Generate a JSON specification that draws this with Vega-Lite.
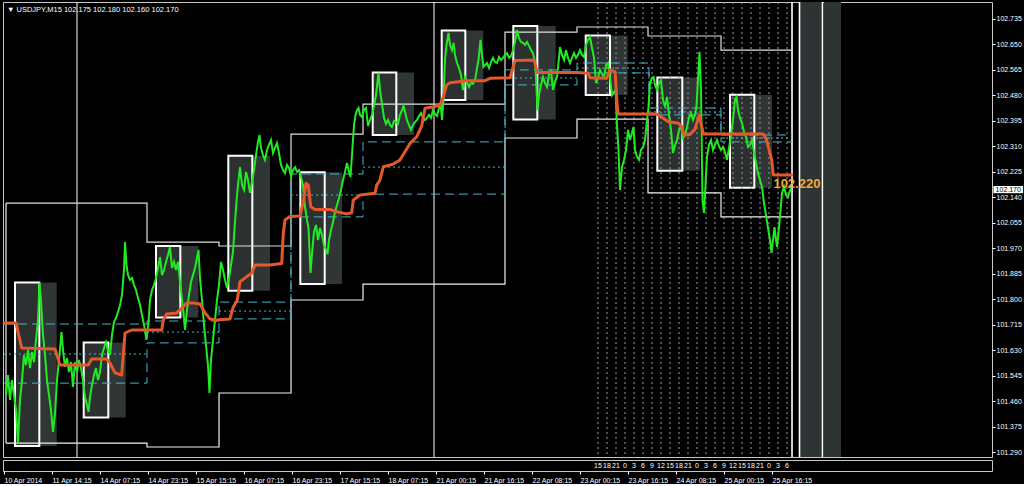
{
"$schema": "https://vega.github.io/schema/vega-lite/v6.json",
"background": "#000000",
"padding": {"left": 1, "top": 0, "right": 0, "bottom": 0},
"spacing": 0,
"config": {"view": {"stroke": "#c8c8c8", "strokeWidth": 1},
 "axis": {"labelColor": "#ffffff", "tickColor": "#ffffff", "tickSize": 3, "domain": false, "grid": false, "labelFont": "Liberation Sans", "labelFontSize": 7, "labelPadding": 1, "title": null}},
"datasets": {
"price": [
{"h":0.67,"p":101.481},{"h":1.33,"p":101.548},{"h":2,"p":101.465},{"h":2.67,"p":101.531},{"h":3.33,"p":101.481},{"h":4,"p":101.431},{"h":4.67,"p":101.321},{"h":5.33,"p":101.465},{"h":6,"p":101.531},{"h":6.67,"p":101.615},{"h":7.33,"p":101.581},{"h":8,"p":101.631},{"h":8.67,"p":101.571},{"h":9.33,"p":101.625},{"h":10,"p":101.591},{"h":10.67,"p":101.665},{"h":11.33,"p":101.731},{"h":11.83,"p":101.855},{"h":12.33,"p":101.798},{"h":13,"p":101.681},{"h":13.67,"p":101.615},{"h":14.33,"p":101.531},{"h":15,"p":101.481},{"h":15.67,"p":101.431},{"h":16.33,"p":101.358},{"h":17,"p":101.421},{"h":17.67,"p":101.531},{"h":18.33,"p":101.598},{"h":19.17,"p":101.691},{"h":19.67,"p":101.631},{"h":20.33,"p":101.575},{"h":21,"p":101.605},{"h":21.67,"p":101.558},{"h":22.33,"p":101.591},{"h":23,"p":101.508},{"h":23.67,"p":101.591},{"h":24.33,"p":101.558},{"h":25,"p":101.598},{"h":25.67,"p":101.571},{"h":26.33,"p":101.531},{"h":27,"p":101.475},{"h":27.67,"p":101.448},{"h":28.17,"p":101.425},{"h":28.67,"p":101.475},{"h":29.33,"p":101.515},{"h":30,"p":101.548},{"h":30.67,"p":101.571},{"h":31.33,"p":101.531},{"h":32,"p":101.558},{"h":32.67,"p":101.615},{"h":33.33,"p":101.638},{"h":34,"p":101.658},{"h":34.67,"p":101.631},{"h":35.33,"p":101.615},{"h":36,"p":101.681},{"h":36.67,"p":101.725},{"h":37.33,"p":101.738},{"h":38,"p":101.758},{"h":38.67,"p":101.781},{"h":39.33,"p":101.815},{"h":40,"p":101.898},{"h":40.33,"p":101.991},{"h":40.83,"p":101.915},{"h":41.33,"p":101.881},{"h":42,"p":101.865},{"h":42.67,"p":101.871},{"h":43.33,"p":101.848},{"h":44,"p":101.831},{"h":44.67,"p":101.805},{"h":45.33,"p":101.781},{"h":46,"p":101.748},{"h":46.67,"p":101.715},{"h":47.5,"p":101.665},{"h":48.17,"p":101.725},{"h":48.67,"p":101.798},{"h":49.33,"p":101.831},{"h":50,"p":101.848},{"h":50.67,"p":101.871},{"h":51.33,"p":101.905},{"h":52,"p":101.941},{"h":52.67,"p":101.881},{"h":53.33,"p":101.898},{"h":54,"p":101.925},{"h":54.67,"p":101.948},{"h":55.33,"p":101.975},{"h":56,"p":101.905},{"h":56.67,"p":101.925},{"h":57.33,"p":101.898},{"h":58,"p":101.925},{"h":58.67,"p":101.858},{"h":59.33,"p":101.798},{"h":60,"p":101.738},{"h":60.33,"p":101.698},{"h":61,"p":101.765},{"h":61.67,"p":101.815},{"h":62.33,"p":101.858},{"h":63,"p":101.881},{"h":63.67,"p":101.905},{"h":64.33,"p":101.938},{"h":64.83,"p":101.965},{"h":65.33,"p":101.871},{"h":66,"p":101.798},{"h":66.67,"p":101.715},{"h":67.33,"p":101.648},{"h":68,"p":101.581},{"h":68.5,"p":101.488},{"h":69,"p":101.598},{"h":69.67,"p":101.665},{"h":70.33,"p":101.731},{"h":71,"p":101.798},{"h":71.67,"p":101.848},{"h":72.33,"p":101.925},{"h":73,"p":101.898},{"h":73.67,"p":101.865},{"h":74.33,"p":101.838},{"h":75,"p":101.871},{"h":75.67,"p":101.915},{"h":76.33,"p":101.958},{"h":77,"p":102.058},{"h":77.67,"p":102.148},{"h":78.17,"p":102.198},{"h":78.67,"p":102.241},{"h":79.33,"p":102.181},{"h":80,"p":102.165},{"h":80.67,"p":102.225},{"h":81.33,"p":102.198},{"h":82,"p":102.155},{"h":82.67,"p":102.191},{"h":83.33,"p":102.231},{"h":84,"p":102.281},{"h":84.67,"p":102.325},{"h":85.17,"p":102.348},{"h":85.67,"p":102.305},{"h":86.33,"p":102.281},{"h":87,"p":102.265},{"h":87.67,"p":102.298},{"h":88.33,"p":102.315},{"h":89,"p":102.331},{"h":89.67,"p":102.288},{"h":90.33,"p":102.305},{"h":91,"p":102.321},{"h":91.67,"p":102.288},{"h":92.33,"p":102.248},{"h":93,"p":102.231},{"h":93.67,"p":102.221},{"h":94.33,"p":102.248},{"h":95,"p":102.238},{"h":95.67,"p":102.211},{"h":96.33,"p":102.231},{"h":97,"p":102.241},{"h":97.67,"p":102.225},{"h":98.33,"p":102.231},{"h":99,"p":102.208},{"h":99.67,"p":102.181},{"h":100.33,"p":102.108},{"h":101,"p":102.065},{"h":101.5,"p":102.038},{"h":102.17,"p":101.888},{"h":102.83,"p":101.971},{"h":103.33,"p":102.025},{"h":104,"p":102.048},{"h":104.67,"p":101.998},{"h":105.33,"p":102.038},{"h":106,"p":102.015},{"h":106.67,"p":101.981},{"h":107.33,"p":101.965},{"h":107.83,"p":101.951},{"h":108.33,"p":101.998},{"h":109,"p":102.031},{"h":109.67,"p":102.058},{"h":110.33,"p":102.091},{"h":111,"p":102.115},{"h":111.67,"p":102.138},{"h":112.33,"p":102.165},{"h":113,"p":102.198},{"h":113.67,"p":102.225},{"h":114.33,"p":102.255},{"h":115,"p":102.225},{"h":115.5,"p":102.208},{"h":116.17,"p":102.308},{"h":116.67,"p":102.381},{"h":117.17,"p":102.415},{"h":117.67,"p":102.431},{"h":118.17,"p":102.438},{"h":118.67,"p":102.415},{"h":119.33,"p":102.408},{"h":120,"p":102.431},{"h":120.67,"p":102.438},{"h":121.33,"p":102.378},{"h":122,"p":102.398},{"h":122.67,"p":102.415},{"h":123.33,"p":102.445},{"h":124,"p":102.481},{"h":124.83,"p":102.555},{"h":125.33,"p":102.498},{"h":126,"p":102.451},{"h":126.67,"p":102.405},{"h":127.33,"p":102.385},{"h":128,"p":102.398},{"h":128.67,"p":102.381},{"h":129.33,"p":102.375},{"h":130,"p":102.395},{"h":130.67,"p":102.391},{"h":131.33,"p":102.385},{"h":132,"p":102.415},{"h":132.67,"p":102.431},{"h":133.17,"p":102.445},{"h":133.67,"p":102.425},{"h":134.33,"p":102.398},{"h":135,"p":102.381},{"h":135.67,"p":102.365},{"h":136.33,"p":102.381},{"h":137,"p":102.391},{"h":137.67,"p":102.398},{"h":138.33,"p":102.411},{"h":139,"p":102.421},{"h":139.67,"p":102.405},{"h":140.33,"p":102.398},{"h":141,"p":102.405},{"h":141.67,"p":102.415},{"h":142.33,"p":102.405},{"h":143,"p":102.431},{"h":143.67,"p":102.418},{"h":144.33,"p":102.411},{"h":145,"p":102.438},{"h":145.5,"p":102.455},{"h":146,"p":102.398},{"h":146.5,"p":102.471},{"h":147,"p":102.598},{"h":147.5,"p":102.648},{"h":148.17,"p":102.688},{"h":148.67,"p":102.648},{"h":149.33,"p":102.631},{"h":149.83,"p":102.655},{"h":150.33,"p":102.615},{"h":151,"p":102.588},{"h":151.67,"p":102.571},{"h":152.33,"p":102.548},{"h":153,"p":102.498},{"h":153.67,"p":102.541},{"h":154.33,"p":102.525},{"h":155,"p":102.508},{"h":155.67,"p":102.521},{"h":156.33,"p":102.518},{"h":157,"p":102.531},{"h":157.67,"p":102.571},{"h":158.17,"p":102.598},{"h":158.83,"p":102.665},{"h":159.33,"p":102.615},{"h":159.83,"p":102.575},{"h":160.33,"p":102.581},{"h":161,"p":102.588},{"h":161.67,"p":102.571},{"h":162.33,"p":102.591},{"h":163,"p":102.605},{"h":163.67,"p":102.591},{"h":164.33,"p":102.588},{"h":165,"p":102.608},{"h":165.67,"p":102.598},{"h":166.33,"p":102.605},{"h":167,"p":102.615},{"h":167.67,"p":102.621},{"h":168.33,"p":102.605},{"h":169,"p":102.611},{"h":169.67,"p":102.631},{"h":170.33,"p":102.658},{"h":171,"p":102.698},{"h":171.67,"p":102.671},{"h":172.33,"p":102.658},{"h":173,"p":102.655},{"h":173.67,"p":102.648},{"h":174.33,"p":102.658},{"h":175,"p":102.645},{"h":175.67,"p":102.631},{"h":176.33,"p":102.621},{"h":177,"p":102.591},{"h":177.33,"p":102.541},{"h":177.83,"p":102.431},{"h":178.33,"p":102.481},{"h":179,"p":102.515},{"h":179.67,"p":102.541},{"h":180.33,"p":102.521},{"h":181,"p":102.508},{"h":181.67,"p":102.548},{"h":182.33,"p":102.565},{"h":183,"p":102.498},{"h":183.67,"p":102.525},{"h":184.33,"p":102.541},{"h":185,"p":102.605},{"h":185.33,"p":102.641},{"h":186,"p":102.615},{"h":186.67,"p":102.598},{"h":187.33,"p":102.631},{"h":188,"p":102.605},{"h":188.67,"p":102.588},{"h":189.33,"p":102.605},{"h":190,"p":102.621},{"h":190.67,"p":102.605},{"h":191.33,"p":102.615},{"h":192,"p":102.631},{"h":192.67,"p":102.615},{"h":193.33,"p":102.608},{"h":194,"p":102.648},{"h":194.67,"p":102.665},{"h":195.33,"p":102.675},{"h":196,"p":102.638},{"h":196.67,"p":102.605},{"h":197.33,"p":102.521},{"h":198,"p":102.538},{"h":198.67,"p":102.565},{"h":199.33,"p":102.551},{"h":200,"p":102.541},{"h":200.67,"p":102.581},{"h":201.33,"p":102.588},{"h":202,"p":102.541},{"h":202.67,"p":102.481},{"h":203.33,"p":102.491},{"h":203.83,"p":102.498},{"h":204.33,"p":102.381},{"h":204.83,"p":102.298},{"h":205.33,"p":102.165},{"h":206,"p":102.241},{"h":206.67,"p":102.265},{"h":207.33,"p":102.298},{"h":208,"p":102.365},{"h":208.67,"p":102.331},{"h":209.33,"p":102.355},{"h":209.83,"p":102.375},{"h":210.33,"p":102.298},{"h":211,"p":102.275},{"h":211.67,"p":102.265},{"h":212.33,"p":102.298},{"h":213,"p":102.308},{"h":213.67,"p":102.331},{"h":214.33,"p":102.398},{"h":214.83,"p":102.441},{"h":215.33,"p":102.521},{"h":216,"p":102.538},{"h":216.5,"p":102.541},{"h":217,"p":102.515},{"h":217.67,"p":102.498},{"h":218.33,"p":102.521},{"h":219,"p":102.531},{"h":219.67,"p":102.465},{"h":220.33,"p":102.441},{"h":221,"p":102.475},{"h":221.67,"p":102.415},{"h":222.33,"p":102.365},{"h":223,"p":102.288},{"h":223.67,"p":102.315},{"h":224.33,"p":102.331},{"h":225,"p":102.365},{"h":225.67,"p":102.375},{"h":226.33,"p":102.338},{"h":227,"p":102.348},{"h":227.67,"p":102.375},{"h":228.33,"p":102.405},{"h":229,"p":102.421},{"h":229.67,"p":102.398},{"h":230.33,"p":102.415},{"h":230.83,"p":102.445},{"h":231.33,"p":102.531},{"h":231.83,"p":102.625},{"h":232.33,"p":102.498},{"h":232.83,"p":102.131},{"h":233.33,"p":102.088},{"h":233.83,"p":102.181},{"h":234.33,"p":102.275},{"h":235,"p":102.315},{"h":235.67,"p":102.331},{"h":236.33,"p":102.298},{"h":237,"p":102.315},{"h":237.67,"p":102.331},{"h":238.33,"p":102.311},{"h":239,"p":102.298},{"h":239.67,"p":102.308},{"h":240.33,"p":102.291},{"h":241,"p":102.265},{"h":241.67,"p":102.305},{"h":242.33,"p":102.348},{"h":243,"p":102.398},{"h":243.67,"p":102.465},{"h":244.17,"p":102.475},{"h":244.67,"p":102.431},{"h":245.33,"p":102.405},{"h":246,"p":102.388},{"h":246.67,"p":102.358},{"h":247.33,"p":102.341},{"h":248,"p":102.308},{"h":248.67,"p":102.315},{"h":249.33,"p":102.331},{"h":250,"p":102.291},{"h":250.67,"p":102.255},{"h":251.33,"p":102.221},{"h":252,"p":102.198},{"h":252.67,"p":102.175},{"h":253.33,"p":102.121},{"h":254,"p":102.081},{"h":254.67,"p":102.038},{"h":255.33,"p":101.998},{"h":255.83,"p":101.955},{"h":256.33,"p":101.998},{"h":256.83,"p":102.041},{"h":257.33,"p":101.998},{"h":257.67,"p":101.975},{"h":258.33,"p":102.041},{"h":259,"p":102.115},{"h":259.33,"p":102.155},{"h":260,"p":102.175},{"h":260.67,"p":102.148},{"h":261.33,"p":102.141},{"h":261.83,"p":102.158},{"h":262.33,"p":102.17}
],
"ma": [
{"h":0,"p":101.721},{"h":4,"p":101.721},{"h":5.9,"p":101.638},{"h":17,"p":101.635},{"h":18.67,"p":101.581},{"h":28.1,"p":101.581},{"h":29.23,"p":101.601},{"h":34.23,"p":101.601},{"h":35.33,"p":101.588},{"h":37,"p":101.555},{"h":39.23,"p":101.548},{"h":40.33,"p":101.688},{"h":42.57,"p":101.698},{"h":52.57,"p":101.698},{"h":53.1,"p":101.731},{"h":54.23,"p":101.751},{"h":57.57,"p":101.755},{"h":59.23,"p":101.771},{"h":60.9,"p":101.788},{"h":63.1,"p":101.788},{"h":65.33,"p":101.785},{"h":67,"p":101.755},{"h":68.67,"p":101.735},{"h":70.9,"p":101.731},{"h":75.33,"p":101.735},{"h":76.43,"p":101.775},{"h":77.77,"p":101.798},{"h":78.67,"p":101.859},{"h":80.9,"p":101.876},{"h":82.57,"p":101.887},{"h":83.67,"p":101.915},{"h":88.67,"p":101.915},{"h":92.57,"p":101.92},{"h":93.1,"p":102.02},{"h":93.67,"p":102.065},{"h":95.33,"p":102.076},{"h":98.67,"p":102.078},{"h":99.77,"p":102.126},{"h":100.67,"p":102.187},{"h":101.43,"p":102.181},{"h":102.23,"p":102.109},{"h":103.67,"p":102.1},{"h":108.67,"p":102.1},{"h":110.9,"p":102.092},{"h":114.23,"p":102.085},{"h":115.9,"p":102.089},{"h":116.43,"p":102.131},{"h":118.67,"p":102.148},{"h":123.67,"p":102.154},{"h":124.23,"p":102.181},{"h":125.33,"p":102.198},{"h":126.43,"p":102.242},{"h":129.77,"p":102.251},{"h":132,"p":102.265},{"h":133.67,"p":102.292},{"h":135.33,"p":102.32},{"h":137.57,"p":102.342},{"h":139.23,"p":102.378},{"h":140.33,"p":102.437},{"h":143.1,"p":102.442},{"h":145.33,"p":102.448},{"h":146.43,"p":102.475},{"h":147.57,"p":102.515},{"h":148.67,"p":102.522},{"h":154.23,"p":102.529},{"h":160.33,"p":102.529},{"h":162,"p":102.537},{"h":168.67,"p":102.539},{"h":170.33,"p":102.596},{"h":176.67,"p":102.598},{"h":177.77,"p":102.556},{"h":190.9,"p":102.556},{"h":194.77,"p":102.554},{"h":195.33,"p":102.539},{"h":200.9,"p":102.537},{"h":202,"p":102.565},{"h":203.67,"p":102.559},{"h":204.43,"p":102.442},{"h":204.77,"p":102.418},{"h":217.57,"p":102.418},{"h":219.77,"p":102.404},{"h":221.43,"p":102.392},{"h":224.77,"p":102.387},{"h":225.9,"p":102.376},{"h":226.67,"p":102.348},{"h":228.67,"p":102.35},{"h":230.33,"p":102.367},{"h":231.77,"p":102.415},{"h":233.1,"p":102.351},{"h":253.1,"p":102.351},{"h":254.23,"p":102.331},{"h":255.9,"p":102.265},{"h":256.43,"p":102.215},{"h":262.57,"p":102.215}
],
"env": [
{"h":0.67,"hi":102.121,"lo":101.321},{"h":47.67,"hi":101.991,"lo":101.308},{"h":71.67,"hi":101.978,"lo":101.488},{"h":95.67,"hi":102.351,"lo":101.798},{"h":119.67,"hi":102.451,"lo":101.851},{"h":167,"hi":102.691,"lo":102.338},{"h":191,"hi":102.708,"lo":102.401},{"h":214.67,"hi":102.678,"lo":102.155},{"h":239,"hi":102.631,"lo":102.075},{"h":262.67,"hi":102.631,"lo":102.075}
],
"lv": [
{"h0":0,"h1":47.67,"top":101.718,"dot":101.618,"bot":101.521},{"h0":47.67,"h1":71.67,"top":101.728,"dot":101.691,"bot":101.655},{"h0":71.67,"h1":95.67,"top":101.791,"dot":101.761,"bot":101.735},{"h0":95.67,"h1":119.67,"top":102.218,"dot":102.148,"bot":102.075},{"h0":119.67,"h1":167,"top":102.325,"dot":102.241,"bot":102.151},{"h0":167,"h1":191,"top":102.565,"dot":102.538,"bot":102.515},{"h0":191,"h1":215,"top":102.588,"dot":102.571,"bot":102.555},{"h0":215,"h1":239,"top":102.438,"dot":102.425,"bot":102.415},{"h0":239,"h1":262.67,"top":102.348,"dot":102.338,"bot":102.325},{"h0":262.67,"top":102.348,"bot":102.325}
],
"sess": [
{"h0":3.67,"h1":11.77,"h2":17.57,"top":101.856,"bot":101.311},{"h0":26.57,"h1":34.77,"h2":40.57,"top":101.656,"bot":101.406},{"h0":50.67,"h1":58.77,"h2":64.77,"top":101.978,"bot":101.74},{"h0":74.77,"h1":82.77,"h2":88.67,"top":102.279,"bot":101.829},{"h0":98.77,"h1":106.9,"h2":112.67,"top":102.224,"bot":101.851},{"h0":122.9,"h1":130.77,"h2":136.67,"top":102.556,"bot":102.348},{"h0":145.9,"h1":153.77,"h2":159.77,"top":102.696,"bot":102.465},{"h0":169.77,"h1":177.77,"h2":183.9,"top":102.711,"bot":102.4},{"h0":193.9,"h1":202,"h2":207.9,"top":102.68,"bot":102.481},{"h0":217.77,"h1":226.1,"h2":232,"top":102.54,"bot":102.229},{"h0":242,"h1":250.1,"h2":256,"top":102.482,"bot":102.172}
],
"hours": [
{"h":198,"hr":"15"},{"h":201,"hr":"18"},{"h":204,"hr":"21"},{"h":207,"hr":"0"},{"h":210,"hr":"3"},{"h":213,"hr":"6"},{"h":216,"hr":"9"},{"h":219,"hr":"12"},{"h":222,"hr":"15"},{"h":225,"hr":"18"},{"h":228,"hr":"21"},{"h":231,"hr":"0"},{"h":234,"hr":"3"},{"h":237,"hr":"6"},{"h":240,"hr":"9"},{"h":243,"hr":"12"},{"h":246,"hr":"15"},{"h":249,"hr":"18"},{"h":252,"hr":"21"},{"h":255,"hr":"0"},{"h":258,"hr":"3"},{"h":261,"hr":"6"}
],
"seps": [{"h":24.33},{"h":143.33}],
"edges": [{"h":262.67},{"h":265.17},{"h":272.83}],
"bands": [{"h0":265.33,"h1":272.67},{"h0":273.33,"h1":279}],
"title": [{"h":1,"p":102.765,"t":"▼ USDJPY,M15  102.175 102.180 102.160 102.170"}],
"last": [{"h":264.3,"p":102.185,"t":"102.220"}],
"bid": [{"h0":329.8,"h1":339.7,"top":102.178,"bot":102.154,"hc":334.75,"pc":102.166,"t":"102.170"}]
},
"vconcat": [
{
"width": 989, "height": 455,
"layer": [
{"data":{"name":"bands"},"mark":{"type":"rect","fill":"#2e3333"},
 "encoding":{"x":{"field":"h0","type":"quantitative","scale":{"domain":[-0.333,329.33],"nice":false,"zero":false},"axis":null},"x2":{"field":"h1"}}},
{"data":{"name":"sess"},"mark":{"type":"rect","fill":"#303535"},
 "encoding":{"x":{"field":"h1","type":"quantitative","scale":{"domain":[-0.333,329.33],"nice":false,"zero":false},"axis":null},"x2":{"field":"h2"},
 "y":{"field":"top","type":"quantitative","scale":{"domain":[101.2747,102.7913],"nice":false,"zero":false},"axis":{"orient":"right","values":[101.29,101.375,101.46,101.545,101.63,101.715,101.8,101.885,101.97,102.055,102.14,102.225,102.31,102.395,102.48,102.565,102.65,102.735],"format":".3f"}},"y2":{"field":"bot"}}},
{"data":{"name":"sess"},"mark":{"type":"rect","fill":"#2c3030","stroke":"#ffffff","strokeWidth":2},
 "encoding":{"x":{"field":"h0","type":"quantitative","scale":{"domain":[-0.333,329.33],"nice":false,"zero":false},"axis":null},"x2":{"field":"h1"},
 "y":{"field":"top","type":"quantitative","scale":{"domain":[101.2747,102.7913],"nice":false,"zero":false},"axis":{"orient":"right","values":[101.29,101.375,101.46,101.545,101.63,101.715,101.8,101.885,101.97,102.055,102.14,102.225,102.31,102.395,102.48,102.565,102.65,102.735],"format":".3f"}},"y2":{"field":"bot"}}},
{"data":{"name":"hours"},"mark":{"type":"rule","color":"#9a9a9a","strokeWidth":1,"strokeDash":[2,3]},
 "encoding":{"x":{"field":"h","type":"quantitative","scale":{"domain":[-0.333,329.33],"nice":false,"zero":false},"axis":null}}},
{"data":{"name":"seps"},"mark":{"type":"rule","color":"#ffffff","strokeWidth":1},
 "encoding":{"x":{"field":"h","type":"quantitative","scale":{"domain":[-0.333,329.33],"nice":false,"zero":false},"axis":null}}},
{"data":{"name":"edges"},"mark":{"type":"rule","color":"#ffffff","strokeWidth":1.6},
 "encoding":{"x":{"field":"h","type":"quantitative","scale":{"domain":[-0.333,329.33],"nice":false,"zero":false},"axis":null}}},
{"data":{"name":"env"},"mark":{"type":"line","color":"#e0e0e0","strokeWidth":1.2,"interpolate":"step-after"},
 "encoding":{"x":{"field":"h","type":"quantitative","scale":{"domain":[-0.333,329.33],"nice":false,"zero":false},"axis":null},
 "y":{"field":"hi","type":"quantitative","scale":{"domain":[101.2747,102.7913],"nice":false,"zero":false},"axis":{"orient":"right","values":[101.29,101.375,101.46,101.545,101.63,101.715,101.8,101.885,101.97,102.055,102.14,102.225,102.31,102.395,102.48,102.565,102.65,102.735],"format":".3f"}}}},
{"data":{"name":"env"},"mark":{"type":"line","color":"#f0f0f0","strokeWidth":1.2,"interpolate":"step-after"},
 "encoding":{"x":{"field":"h","type":"quantitative","scale":{"domain":[-0.333,329.33],"nice":false,"zero":false},"axis":null},
 "y":{"field":"lo","type":"quantitative","scale":{"domain":[101.2747,102.7913],"nice":false,"zero":false},"axis":{"orient":"right","values":[101.29,101.375,101.46,101.545,101.63,101.715,101.8,101.885,101.97,102.055,102.14,102.225,102.31,102.395,102.48,102.565,102.65,102.735],"format":".3f"}}}},
{"data":{"name":"env"},"transform":[{"filter":"datum.h < 1"}],"mark":{"type":"rule","color":"#f0f0f0","strokeWidth":1.2},
 "encoding":{"x":{"field":"h","type":"quantitative","scale":{"domain":[-0.333,329.33],"nice":false,"zero":false},"axis":null},
 "y":{"field":"lo","type":"quantitative","scale":{"domain":[101.2747,102.7913],"nice":false,"zero":false},"axis":{"orient":"right","values":[101.29,101.375,101.46,101.545,101.63,101.715,101.8,101.885,101.97,102.055,102.14,102.225,102.31,102.395,102.48,102.565,102.65,102.735],"format":".3f"}},"y2":{"field":"hi"}}},
{"data":{"name":"lv"},"mark":{"type":"line","color":"#45b5c8","strokeWidth":1,"strokeDash":[9,5],"interpolate":"step-after"},
 "encoding":{"x":{"field":"h0","type":"quantitative","scale":{"domain":[-0.333,329.33],"nice":false,"zero":false},"axis":null},
 "y":{"field":"top","type":"quantitative","scale":{"domain":[101.2747,102.7913],"nice":false,"zero":false},"axis":{"orient":"right","values":[101.29,101.375,101.46,101.545,101.63,101.715,101.8,101.885,101.97,102.055,102.14,102.225,102.31,102.395,102.48,102.565,102.65,102.735],"format":".3f"}}}},
{"data":{"name":"lv"},"mark":{"type":"line","color":"#45b5c8","strokeWidth":1,"strokeDash":[9,5],"interpolate":"step-after"},
 "encoding":{"x":{"field":"h0","type":"quantitative","scale":{"domain":[-0.333,329.33],"nice":false,"zero":false},"axis":null},
 "y":{"field":"bot","type":"quantitative","scale":{"domain":[101.2747,102.7913],"nice":false,"zero":false},"axis":{"orient":"right","values":[101.29,101.375,101.46,101.545,101.63,101.715,101.8,101.885,101.97,102.055,102.14,102.225,102.31,102.395,102.48,102.565,102.65,102.735],"format":".3f"}}}},
{"data":{"name":"lv"},"transform":[{"filter":"isValid(datum.h1)"}],"mark":{"type":"rule","color":"#45b5c8","strokeWidth":1,"strokeDash":[2,3]},
 "encoding":{"x":{"field":"h0","type":"quantitative","scale":{"domain":[-0.333,329.33],"nice":false,"zero":false},"axis":null},"x2":{"field":"h1"},
 "y":{"field":"dot","type":"quantitative","scale":{"domain":[101.2747,102.7913],"nice":false,"zero":false},"axis":{"orient":"right","values":[101.29,101.375,101.46,101.545,101.63,101.715,101.8,101.885,101.97,102.055,102.14,102.225,102.31,102.395,102.48,102.565,102.65,102.735],"format":".3f"}}}},
{"data":{"name":"price"},"mark":{"type":"line","color":"#22ea22","strokeWidth":2,"strokeJoin":"miter"},
 "encoding":{"x":{"field":"h","type":"quantitative","scale":{"domain":[-0.333,329.33],"nice":false,"zero":false},"axis":null},
 "y":{"field":"p","type":"quantitative","scale":{"domain":[101.2747,102.7913],"nice":false,"zero":false},"axis":{"orient":"right","values":[101.29,101.375,101.46,101.545,101.63,101.715,101.8,101.885,101.97,102.055,102.14,102.225,102.31,102.395,102.48,102.565,102.65,102.735],"format":".3f"}}}},
{"data":{"name":"ma"},"mark":{"type":"line","color":"#e4582a","strokeWidth":3,"strokeJoin":"round","strokeCap":"round"},
 "encoding":{"x":{"field":"h","type":"quantitative","scale":{"domain":[-0.333,329.33],"nice":false,"zero":false},"axis":null},
 "y":{"field":"p","type":"quantitative","scale":{"domain":[101.2747,102.7913],"nice":false,"zero":false},"axis":{"orient":"right","values":[101.29,101.375,101.46,101.545,101.63,101.715,101.8,101.885,101.97,102.055,102.14,102.225,102.31,102.395,102.48,102.565,102.65,102.735],"format":".3f"}}}},
{"data":{"name":"title"},"mark":{"type":"text","color":"#ffffff","fontSize":7.5,"font":"Liberation Sans","align":"left","baseline":"middle"},
 "encoding":{"x":{"field":"h","type":"quantitative","scale":{"domain":[-0.333,329.33],"nice":false,"zero":false},"axis":null},
 "y":{"field":"p","type":"quantitative","scale":{"domain":[101.2747,102.7913],"nice":false,"zero":false},"axis":{"orient":"right","values":[101.29,101.375,101.46,101.545,101.63,101.715,101.8,101.885,101.97,102.055,102.14,102.225,102.31,102.395,102.48,102.565,102.65,102.735],"format":".3f"}},"text":{"field":"t"}}},
{"data":{"name":"last"},"mark":{"type":"text","color":"#f2a93b","fontSize":13,"fontWeight":"bold","font":"Liberation Sans","align":"center","baseline":"middle"},
 "encoding":{"x":{"field":"h","type":"quantitative","scale":{"domain":[-0.333,329.33],"nice":false,"zero":false},"axis":null},
 "y":{"field":"p","type":"quantitative","scale":{"domain":[101.2747,102.7913],"nice":false,"zero":false},"axis":{"orient":"right","values":[101.29,101.375,101.46,101.545,101.63,101.715,101.8,101.885,101.97,102.055,102.14,102.225,102.31,102.395,102.48,102.565,102.65,102.735],"format":".3f"}},"text":{"field":"t"}}},
{"data":{"name":"bid"},"mark":{"type":"rect","fill":"#ffffff"},
 "encoding":{"x":{"field":"h0","type":"quantitative","scale":{"domain":[-0.333,329.33],"nice":false,"zero":false},"axis":null},"x2":{"field":"h1"},
 "y":{"field":"top","type":"quantitative","scale":{"domain":[101.2747,102.7913],"nice":false,"zero":false},"axis":{"orient":"right","values":[101.29,101.375,101.46,101.545,101.63,101.715,101.8,101.885,101.97,102.055,102.14,102.225,102.31,102.395,102.48,102.565,102.65,102.735],"format":".3f"}},"y2":{"field":"bot"}}},
{"data":{"name":"bid"},"mark":{"type":"text","color":"#000000","fontSize":7,"font":"Liberation Sans","align":"center","baseline":"middle"},
 "encoding":{"x":{"field":"hc","type":"quantitative","scale":{"domain":[-0.333,329.33],"nice":false,"zero":false},"axis":null},
 "y":{"field":"pc","type":"quantitative","scale":{"domain":[101.2747,102.7913],"nice":false,"zero":false},"axis":{"orient":"right","values":[101.29,101.375,101.46,101.545,101.63,101.715,101.8,101.885,101.97,102.055,102.14,102.225,102.31,102.395,102.48,102.565,102.65,102.735],"format":".3f"}},"text":{"field":"t"}}}
]
},
{
"width": 989, "height": 11,
"data": {"name": "hours"},
"mark": {"type": "text", "color": "#ffffff", "fontSize": 7, "font": "Liberation Sans", "align": "center", "baseline": "middle"},
"encoding": {
 "x": {"field": "h", "type": "quantitative", "scale": {"domain": [-0.333, 329.33], "nice": false, "zero": false},
  "axis": {"values": [0,16,32,48,64,80,96,112,128,144,160,176,192,208,224,240,256],
   "labelExpr": "['10 Apr 2014','11 Apr 14:15','14 Apr 07:15','14 Apr 23:15','15 Apr 15:15','16 Apr 07:15','16 Apr 23:15','17 Apr 15:15','18 Apr 07:15','21 Apr 00:15','21 Apr 16:15','22 Apr 08:15','23 Apr 00:15','23 Apr 16:15','24 Apr 08:15','25 Apr 00:15','25 Apr 16:15'][round(datum.value/16)]",
   "labelAlign": "left", "labelBaseline": "top", "labelPadding": 2, "labelOverlap": false, "labelFlush": false, "labelBound": false}},
 "text": {"field": "hr"}
}
}
]
}
